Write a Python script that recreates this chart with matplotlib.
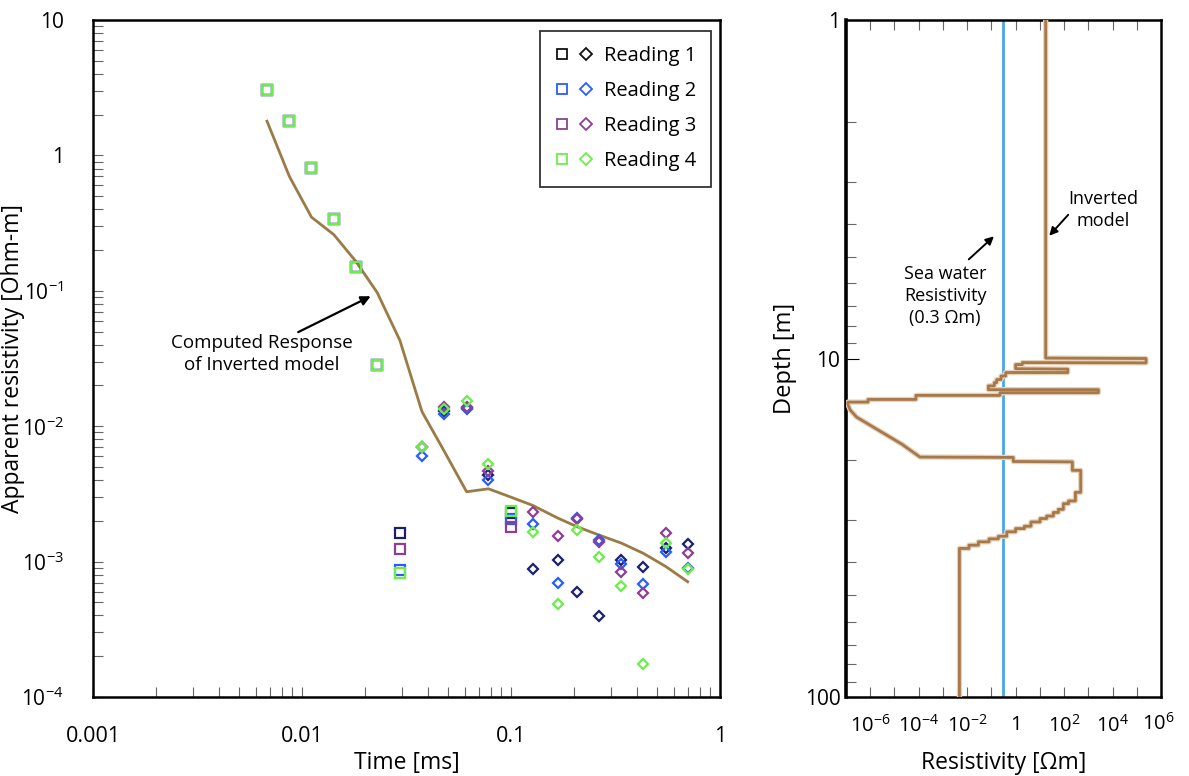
import numpy as np
import matplotlib
matplotlib.use("Agg")
import matplotlib.pyplot as plt
import matplotlib.patheffects as pe
from matplotlib.ticker import FixedLocator, FixedFormatter, LogLocator, NullFormatter
from matplotlib.legend_handler import HandlerTuple
from matplotlib.lines import Line2D

plt.rcParams['font.family'] = ['Open Sans', 'DejaVu Sans']
plt.rcParams['mathtext.default'] = 'regular'

# ---- data: apparent resistivity vs time ----
times = [0.0068, 0.0087, 0.0111, 0.0142, 0.0181, 0.0229, 0.0294, 0.0375, 0.048, 0.0613,
         0.078, 0.0995, 0.127, 0.167, 0.207, 0.264, 0.337, 0.43, 0.55, 0.70]
kinds = ['s'] * 7 + ['D'] * 4 + ['s'] + ['D'] * 8

reading1 = [3.04, 1.80, 0.81, 0.337, 0.149, 0.0283, 1.62e-3, 7.0e-3, 1.29e-2, 1.36e-2,
            4.36e-3, 2.30e-3, 8.87e-4, 1.02e-3, 6.0e-4, 3.98e-4, 1.02e-3, 9.16e-4, 1.27e-3, 1.35e-3]
reading2 = [3.04, 1.80, 0.81, 0.337, 0.149, 0.0283, 8.67e-4, 6.03e-3, 1.24e-2, 1.33e-2,
            4.0e-3, 2.05e-3, 1.90e-3, 6.92e-4, 2.09e-3, 1.44e-3, 9.64e-4, 6.84e-4, 1.17e-3, 9.03e-4]
reading3 = [3.04, 1.80, 0.81, 0.337, 0.149, 0.0283, 1.23e-3, 7.0e-3, 1.39e-2, 1.38e-2,
            4.69e-3, 1.79e-3, 2.34e-3, 1.55e-3, 2.05e-3, 1.40e-3, 8.42e-4, 5.83e-4, 1.63e-3, 1.16e-3]
reading4 = [3.04, 1.80, 0.81, 0.337, 0.149, 0.0283, 8.3e-4, 7.06e-3, 1.33e-2, 1.54e-2,
            5.23e-3, 2.38e-3, 1.66e-3, 4.84e-4, 1.71e-3, 1.08e-3, 6.56e-4, 1.75e-4, 1.38e-3, 8.82e-4]

readings = [reading1, reading2, reading3, reading4]
labels = ['Reading 1', 'Reading 2', 'Reading 3', 'Reading 4']
colors = ['#1b2170', '#2a5cff', '#8e3f94', '#6cee4a']
legend_colors = ['#111111', '#2a5cff', '#8e3f94', '#6cee4a']

# computed response of inverted model
fit_rho = [1.79, 0.70, 0.35, 0.26, 0.165, 0.097, 0.043, 0.0128, 6.5e-3, 3.28e-3,
           3.45e-3, 3.0e-3, 2.6e-3, 2.1e-3, 1.81e-3, 1.57e-3, 1.37e-3, 1.15e-3, 9.2e-4, 7.1e-4]

# ---- data: inverted model (resistivity vs depth) ----
model_res = [17.4, 17.4, 2.4e5, 2.4e5, 1.89, 1.89, 1.0, 1.0, 141, 141, 0.39, 0.39, 0.25, 0.25,
             0.165, 0.165, 0.132, 0.132, 0.075, 0.075, 2594, 2594, 0.227, 0.227, 7.7e-5, 7.7e-5,
             8.1e-7, 8.1e-7, 1.2e-7, 1.2e-7, 1.5e-7, 2.75e-7, 2e-5, 1.13e-4, 0.80, 0.80,
             219, 219, 484, 484, 292, 292, 152, 152, 93, 93, 58, 58, 36, 36, 19.1, 19.1,
             10.2, 10.2, 4.3, 4.3, 2.3, 2.3, 1.0, 1.0, 0.43, 0.43, 0.194, 0.194, 0.080, 0.080,
             0.029, 0.029, 0.0119, 0.0119, 0.0048, 0.0048]
model_depth = [1.0, 9.97, 10.0, 10.3, 10.28, 10.42, 10.42, 10.72, 10.75, 11.0, 11.0, 11.26,
               11.26, 11.54, 11.54, 11.78, 11.78, 12.05, 12.05, 12.36, 12.36, 12.62, 12.62,
               12.85, 12.85, 13.21, 13.21, 13.45, 13.45, 13.67, 14.2, 14.9, 17.9, 19.55, 19.6,
               20.15, 20.2, 21.4, 21.4, 24.85, 24.85, 26.35, 26.35, 26.85, 26.85, 27.9, 27.9,
               28.5, 28.5, 29.2, 29.2, 29.7, 29.7, 30.4, 30.4, 31.3, 31.3, 31.8, 31.8, 32.5,
               32.5, 33.5, 33.5, 34.1, 34.1, 34.8, 34.8, 35.6, 35.6, 36.4, 36.4, 100]
sea_water = 0.3

fig = plt.figure(figsize=(11.89, 7.76), dpi=100)
ax = fig.add_axes([0.0782, 0.1018, 0.5274, 0.8724])
ax2 = fig.add_axes([0.7115, 0.1018, 0.265, 0.8724])

# ---- left panel ----
ax.plot(times, fit_rho, color='#9b7b45', lw=2.0, zorder=2)
for vals, c in zip(readings, colors):
    for m in ['s', 'D']:
        tt = [t for t, k in zip(times, kinds) if k == m]
        vv = [v for v, k in zip(vals, kinds) if k == m]
        ax.plot(tt, vv, ls='none', marker=m, mfc='none', mec=c,
                ms=7.5 if m == 's' else 5.5, mew=1.6, zorder=3)

ax.set_xscale('log')
ax.set_yscale('log')
ax.set_xlim(1e-3, 1)
ax.set_ylim(1e-4, 10)
ax.xaxis.set_major_locator(FixedLocator([1e-3, 1e-2, 1e-1, 1]))
ax.xaxis.set_major_formatter(FixedFormatter(['0.001', '0.01', '0.1', '1']))
ax.xaxis.set_minor_locator(LogLocator(base=10, subs=np.arange(2, 10)))
ax.xaxis.set_minor_formatter(NullFormatter())
ax.yaxis.set_major_locator(FixedLocator([1e-4, 1e-3, 1e-2, 1e-1, 1, 10]))
ax.yaxis.set_major_formatter(FixedFormatter([r'$10^{-4}$', r'$10^{-3}$', r'$10^{-2}$',
                                             r'$10^{-1}$', '1', '10']))
ax.yaxis.set_minor_locator(LogLocator(base=10, subs=np.arange(2, 10)))
ax.yaxis.set_minor_formatter(NullFormatter())
ax.tick_params(which='both', direction='in', top=False, right=False, color='#666666', width=0.8)
ax.tick_params(which='major', length=7)
ax.tick_params(which='minor', length=7)
ax.tick_params(axis='x', which='major', labelsize=15.5, pad=21)
ax.tick_params(axis='y', which='major', labelsize=15, pad=21)
for s in ax.spines.values():
    s.set_linewidth(1.8)
ax.set_xlabel('Time [ms]', fontsize=16.5)
ax.xaxis.set_label_coords(0.5, -0.08)
ax.set_ylabel('Apparent resistivity [Ohm-m]', fontsize=16.5)
ax.yaxis.set_label_coords(-0.108, 0.5)

handles = []
for c in legend_colors:
    h1 = Line2D([], [], ls='none', marker='s', mfc='none', mec=c, ms=7.5, mew=1.3)
    h2 = Line2D([], [], ls='none', marker='D', mfc='none', mec=c, ms=6.5, mew=1.3)
    handles.append((h1, h2))
leg = ax.legend(handles, labels, handler_map={tuple: HandlerTuple(ndivide=None, pad=0.5)},
                loc='upper right', bbox_to_anchor=(0.9856, 0.9838), borderaxespad=0,
                fontsize=14.5, frameon=True, fancybox=False, edgecolor='black',
                handlelength=1.9, handletextpad=0.5, labelspacing=0.75, borderpad=0.75)
leg.get_frame().set_linewidth(1.3)

ax.annotate('', xy=(0.0219, 0.0931), xytext=(0.00933, 0.0485),
            arrowprops=dict(arrowstyle='-|>', color='black', lw=1.6, mutation_scale=14))
ax.text(0.00644, 0.0341, 'Computed Response\nof Inverted model', fontsize=13.5,
        ha='center', va='center', linespacing=1.25)

# ---- right panel ----
ax2.axvline(sea_water, color='#4aa6e6', lw=2.0, zorder=2)
ax2.plot(model_res, model_depth, color='#a6784a', lw=2.0, zorder=3,
         path_effects=[pe.Stroke(linewidth=3.8, foreground='#e6d3ba'), pe.Normal()])
ax2.set_xscale('log')
ax2.set_yscale('log')
ax2.set_xlim(1e-7, 1e6)
ax2.set_ylim(100, 1)
ax2.xaxis.set_major_locator(FixedLocator([10.0 ** k for k in range(-6, 6)]))
ax2.xaxis.set_major_formatter(FixedFormatter(
    [r'$10^{-6}$', '', r'$10^{-4}$', '', r'$10^{-2}$', '', '1', '', r'$10^{2}$', '', r'$10^{4}$', '']))
ax2.xaxis.set_minor_locator(FixedLocator([]))
ax2.text(0.99, -0.0235, r'$10^{6}$', transform=ax2.transAxes, fontsize=14.5, ha='center', va='top')
ax2.yaxis.set_major_locator(FixedLocator([1, 10, 100]))
ax2.yaxis.set_major_formatter(FixedFormatter(['1', '10', '100']))
ax2.yaxis.set_minor_locator(LogLocator(base=10, subs=np.arange(2, 10)))
ax2.yaxis.set_minor_formatter(NullFormatter())
ax2.tick_params(which='both', direction='in', color='#666666', width=0.8)
ax2.tick_params(axis='x', which='major', top=True, bottom=True, length=7, labelsize=14.5, pad=13)
ax2.tick_params(axis='y', which='major', right=False, length=9, color='black', labelsize=15, pad=4)
ax2.tick_params(axis='y', which='minor', right=False, length=7)
for s in ax2.spines.values():
    s.set_linewidth(1.8)
ax2.spines['left'].set_linewidth(2.6)
ax2.set_xlabel('Resistivity [Ωm]', fontsize=16.5)
ax2.xaxis.set_label_coords(0.5, -0.08)
ax2.set_ylabel('Depth [m]', fontsize=17)
ax2.yaxis.set_label_coords(-0.155, 0.5)

ax2.annotate('', xy=(0.155, 4.30), xytext=(9.6e-3, 5.16),
             arrowprops=dict(arrowstyle='-|>', color='black', lw=1.4, mutation_scale=12))
ax2.text(1.22e-3, 6.53, 'Sea water\nResistivity\n(0.3 Ωm)', fontsize=13,
         ha='center', va='center', linespacing=1.3)
ax2.annotate('', xy=(20.3, 4.40), xytext=(176, 3.71),
             arrowprops=dict(arrowstyle='-|>', color='black', lw=1.4, mutation_scale=12))
ax2.text(4050, 3.65, 'Inverted\nmodel', fontsize=13, ha='center', va='center', linespacing=1.3)

fig.savefig('out.png', dpi=100)
